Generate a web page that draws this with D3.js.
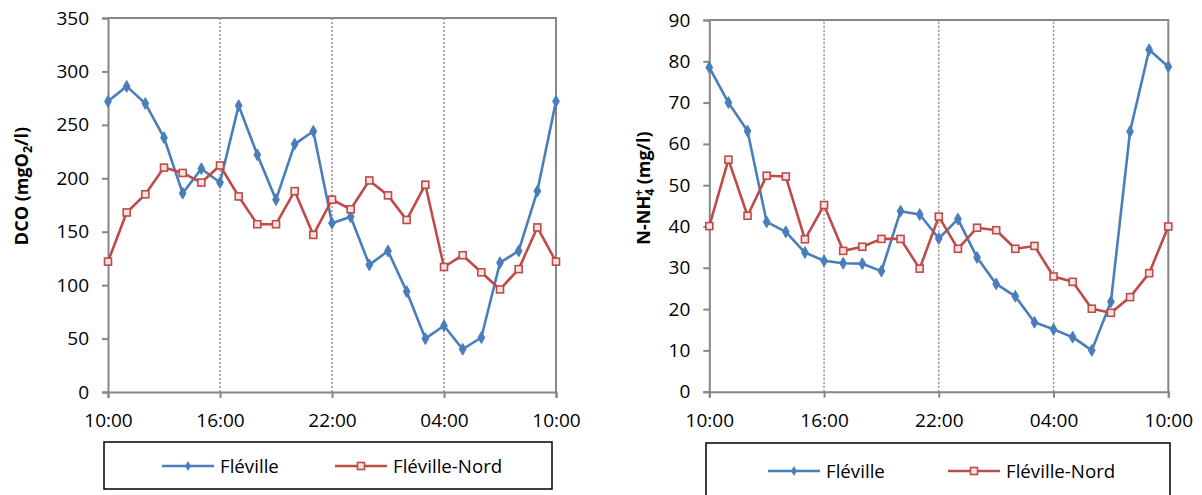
<!DOCTYPE html>
<html>
<head>
<meta charset="utf-8">
<script src="https://cdn.jsdelivr.net/npm/d3@7"></script>
<style>
  html, body { margin: 0; padding: 0; background: #fff; }
  svg { display: block; font-family: "Open Sans", "Noto Sans", sans-serif; }
</style>
</head>
<body>
<svg id="chart" width="1202" height="495"></svg>
<script>
// ---- Data ----
const hours = [0,1,2,3,4,5,6,7,8,9,10,11,12,13,14,15,16,17,18,19,20,21,22,23,24];
const tickHours = [0, 6, 12, 18, 24];
const tickLabels = ["10:00", "16:00", "22:00", "04:00", "10:00"];
const seriesNames = ["Fléville", "Fléville-Nord"];

const dcoFleville = [272,286,270,238,186,209,196,268,222,180,232,244,158,164,119,132,94,50,62,40,51,121,132,188,272];
const dcoFlevilleNord = [122,168,185,210,205,196,212,183,157,157,188,147,180,171,198,184,161,194,117,128,112,96,115,154,122];
const dcoTicks = [0,50,100,150,200,250,300,350];

const nhFleville = [78.5,70,63.1,41.1,38.7,33.7,31.7,31.1,31.0,29.2,43.7,42.9,37.1,41.8,32.5,26.1,23.1,16.8,15.1,13.2,10.0,21.8,63,82.8,78.7];
const nhFlevilleNord = [40.1,56.2,42.6,52.3,52.1,36.9,45.2,34.1,35.1,37.0,37.0,29.8,42.4,34.6,39.7,39.1,34.6,35.3,27.9,26.6,20.1,19.1,22.9,28.7,40.0];
const nhTicks = [0,10,20,30,40,50,60,70,80,90];

const blue = "#4A7EBB", red = "#BE4B48", axisColor = "#868686";
const FONT = "'Open Sans', sans-serif";

const svg = d3.select("#chart");

function drawChart(cfg) {
  const g = svg.append("g");
  const x = d3.scaleLinear().domain([0, 24]).range([cfg.x0, cfg.x1]);
  const y = d3.scaleLinear().domain([0, cfg.ymax]).range([cfg.y0, cfg.y1]);

  // dotted vertical grid lines
  g.selectAll(".vgrid").data(tickHours.slice(1, 4)).enter().append("line")
    .attr("x1", d => x(d)).attr("x2", d => x(d))
    .attr("y1", y(0)).attr("y2", y(cfg.ymax))
    .attr("stroke", "#808080").attr("stroke-width", 1.3)
    .attr("stroke-dasharray", "2,2");

  // frame top & right
  g.append("path")
    .attr("d", `M${x(0)},${y(cfg.ymax)}H${x(24)}V${y(0)}`)
    .attr("fill", "none").attr("stroke", axisColor).attr("stroke-width", 2);

  // y axis
  const yAxis = d3.axisLeft(y).tickValues(cfg.ticks).tickSize(6).tickPadding(13).tickFormat(d3.format("d"));
  const ya = g.append("g").attr("transform", `translate(${x(0)},0)`).call(yAxis);
  ya.select(".domain").attr("stroke", axisColor).attr("stroke-width", 2);
  ya.selectAll(".tick line").attr("stroke", axisColor).attr("stroke-width", 2);
  ya.selectAll(".tick text").attr("font-size", 19).attr("fill", "#000").attr("font-family", FONT);

  // x axis
  const xAxis = d3.axisBottom(x).tickValues(tickHours).tickSize(6).tickPadding(15.5)
    .tickFormat((d, i) => tickLabels[i]);
  const xa = g.append("g").attr("transform", `translate(0,${y(0)})`).call(xAxis);
  xa.select(".domain").attr("stroke", axisColor).attr("stroke-width", 2);
  xa.selectAll(".tick line").attr("stroke", axisColor).attr("stroke-width", 2);
  xa.selectAll(".tick text").attr("font-size", 19).attr("fill", "#000").attr("font-family", FONT);

  const line = d3.line().x((d, i) => x(hours[i])).y(d => y(d));

  g.append("path").datum(cfg.blueData).attr("d", line)
    .attr("fill", "none").attr("stroke", blue).attr("stroke-width", 2.6).attr("stroke-linejoin", "round");
  g.selectAll(".bm").data(cfg.blueData).enter().append("path")
    .attr("d", d3.symbol(d3.symbolDiamond, 40))
    .attr("transform", (d, i) => `translate(${x(hours[i])},${y(d)})`)
    .attr("fill", blue).attr("stroke", blue).attr("stroke-width", 1);

  g.append("path").datum(cfg.redData).attr("d", line)
    .attr("fill", "none").attr("stroke", red).attr("stroke-width", 2.6).attr("stroke-linejoin", "round");
  g.selectAll(".rm").data(cfg.redData).enter().append("rect")
    .attr("x", (d, i) => x(hours[i]) - 3.5).attr("y", d => y(d) - 3.5)
    .attr("width", 7).attr("height", 7)
    .attr("fill", "#f6e4e3").attr("stroke", red).attr("stroke-width", 1.6);

  // y-axis title
  const t = g.append("text")
    .attr("transform", `translate(${cfg.titleX},${cfg.titleY}) rotate(-90)`)
    .attr("text-anchor", "middle").attr("font-weight", "bold").attr("font-size", 18)
    .attr("font-family", FONT).attr("fill", "#000");
  cfg.title(t);

  // legend
  const lg = g.append("g");
  lg.append("rect").attr("x", cfg.legX).attr("y", cfg.legY).attr("width", cfg.legW).attr("height", cfg.legH)
    .attr("fill", "#fff").attr("stroke", "#000").attr("stroke-width", 1.5);
  const ly = cfg.legY + cfg.legLineOffset;
  lg.append("line").attr("x1", cfg.legB).attr("x2", cfg.legB + 52).attr("y1", ly).attr("y2", ly)
    .attr("stroke", blue).attr("stroke-width", 2.6);
  lg.append("path").attr("d", d3.symbol(d3.symbolDiamond, 30))
    .attr("transform", `translate(${cfg.legB + 26},${ly})`).attr("fill", blue);
  lg.append("text").attr("x", cfg.legB + 58).attr("y", ly + 6.5).attr("font-size", 18.7)
    .attr("font-family", FONT).text(seriesNames[0]);
  lg.append("line").attr("x1", cfg.legR).attr("x2", cfg.legR + 52).attr("y1", ly).attr("y2", ly)
    .attr("stroke", red).attr("stroke-width", 2.6);
  lg.append("rect").attr("x", cfg.legR + 26 - 3.5).attr("y", ly - 3.5).attr("width", 7).attr("height", 7)
    .attr("fill", "#f6e4e3").attr("stroke", red).attr("stroke-width", 1.6);
  lg.append("text").attr("x", cfg.legR + 58).attr("y", ly + 6.5).attr("font-size", 18.7)
    .attr("font-family", FONT).text(seriesNames[1]);
}

drawChart({
  x0: 108, x1: 556, y0: 392, y1: 18, ymax: 350, ticks: dcoTicks,
  blueData: dcoFleville, redData: dcoFlevilleNord,
  titleX: 28, titleY: 186,
  title: t => {
    t.append("tspan").text("DCO (mgO");
    t.append("tspan").attr("dy", 4).attr("font-size", 12.5).text("2");
    t.append("tspan").attr("dy", -4).text("/l)");
  },
  legX: 104, legY: 442, legW: 448, legH: 47, legLineOffset: 24, legB: 162, legR: 335
});

drawChart({
  x0: 709.3, x1: 1168.3, y0: 391.7, y1: 20, ymax: 90, ticks: nhTicks,
  blueData: nhFleville, redData: nhFlevilleNord,
  titleX: 650, titleY: 188,
  title: t => {
    t.append("tspan").text("N-NH");
    t.append("tspan").attr("dy", 4).attr("font-size", 12.5).text("4");
    t.append("tspan").attr("dx", -7.5).attr("dy", -11).attr("font-size", 12.5).text("+");
    t.append("tspan").attr("dy", 7).text(" (mg/l)");
  },
  legX: 706, legY: 443, legW: 464, legH: 60, legLineOffset: 28, legB: 768, legR: 948
});
</script>
</body>
</html>
